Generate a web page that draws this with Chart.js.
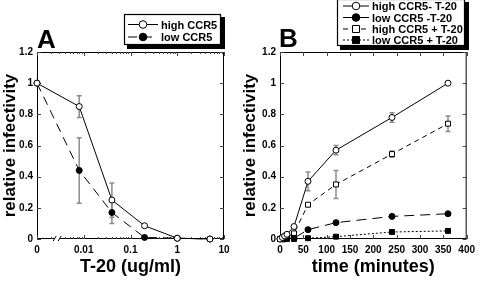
<!DOCTYPE html>
<html>
<head>
<meta charset="utf-8">
<script src="https://cdn.jsdelivr.net/npm/chart.js@4.4.0/dist/chart.umd.min.js"></script>
<style>
  html, body { margin: 0; padding: 0; background: #fff; }
  #wrap { position: relative; width: 480px; height: 281px; }
  .panel { position: absolute; top: 0; width: 240px; height: 281px; }
</style>
</head>
<body>
<div id="wrap">
  <div class="panel" style="left:0"><canvas id="chartA" width="240" height="281"></canvas></div>
  <div class="panel" style="left:240px"><canvas id="chartB" width="240" height="281"></canvas></div>
</div>
<script>
// ---- panel A: dose response (T-20 ug/ml), "0" is drawn at the 0.001 position
const DOSE = [0, 0.008, 0.04, 0.2, 1, 5];
const ZERO_AT = 0.001;
const HIGH_A = [1, 0.85, 0.25, 0.085, 0.005, 0.0];
const HIGH_A_ERR = [0, 0.07, 0.11, 0, 0, 0];
const LOW_A = [1, 0.44, 0.17, 0.01, 0.005, 0.0];
const LOW_A_ERR = [0, 0.21, 0.07, 0, 0, 0];
const X_TICKS_A = [0.001, 0.01, 0.1, 1, 10];
const X_LABELS_A = ['0', '0.01', '0.1', '1', '10'];

// ---- panel B: time course (minutes)
const TIME = [0, 5, 10, 15, 30, 60, 120, 240, 360];
const HIGH_NO = [0, 0.01, 0.02, 0.03, 0.08, 0.37, 0.57, 0.78, 1.0];
const HIGH_NO_ERR = [0, 0, 0, 0, 0, 0.06, 0.03, 0.03, 0];
const LOW_NO = [0, 0, 0, 0.005, 0.005, 0.06, 0.105, 0.145, 0.162];
const HIGH_T20 = [0, 0.005, 0.005, 0.01, 0.036, 0.22, 0.35, 0.545, 0.74];
const HIGH_T20_ERR = [0, 0, 0, 0, 0, 0, 0.09, 0.02, 0.05];
const LOW_T20 = [0, 0, 0, 0, 0.0, 0.005, 0.015, 0.045, 0.052];
const X_TICKS_B = [0, 50, 100, 150, 200, 250, 300, 350, 400];

const Y_TICKS = [0, 0.2, 0.4, 0.6, 0.8, 1, 1.2];

Chart.defaults.font.family = "'Liberation Sans', Arial, Helvetica, sans-serif";
Chart.defaults.color = '#000';

const pts = (xs, ys, zero) => xs.map((x, i) => ({ x: (zero && x === 0) ? zero : x, y: ys[i] }));

// gray vertical error bars, drawn under the markers
const errorBars = {
  id: 'errorBars',
  beforeDatasetsDraw(chart) {
    const { ctx, scales: { x, y } } = chart;
    ctx.save();
    ctx.strokeStyle = '#8c8c8c';
    ctx.lineWidth = 1.5;
    chart.data.datasets.forEach((ds) => {
      if (!ds.errors) return;
      ds.data.forEach((p, i) => {
        const e = ds.errors[i];
        if (!e) return;
        const px = x.getPixelForValue(p.x);
        const top = y.getPixelForValue(p.y + e);
        const bot = y.getPixelForValue(p.y - e);
        ctx.beginPath();
        ctx.moveTo(px, top); ctx.lineTo(px, bot);
        ctx.moveTo(px - 2.5, top); ctx.lineTo(px + 2.5, top);
        ctx.moveTo(px - 2.5, bot); ctx.lineTo(px + 2.5, bot);
        ctx.stroke();
      });
    });
    ctx.restore();
  }
};

// box round the plot with inward ticks on every side
const frame = {
  id: 'frame',
  beforeDatasetsDraw(chart, args, opts) {
    const { ctx, chartArea: a, scales: { x, y } } = chart;
    ctx.save();
    ctx.strokeStyle = '#000';
    ctx.lineWidth = 1;
    ctx.strokeRect(a.left + 0.5, a.top + 0.5, a.right - a.left - 1, a.bottom - a.top - 1);
    ctx.strokeStyle = '#444';
    ctx.beginPath();
    const xt = (v, len) => {
      const px = Math.round(x.getPixelForValue(v)) + 0.5;
      ctx.moveTo(px, a.bottom); ctx.lineTo(px, a.bottom - len);
      ctx.moveTo(px, a.top); ctx.lineTo(px, a.top + len);
    };
    x.ticks.forEach((t) => xt(t.value, 4));
    if (opts.logMinor) {
      x.ticks.slice(0, -1).forEach((t) => {
        for (let k = 2; k <= 9; k++) xt(t.value * k, 2);
      });
    }
    y.ticks.forEach((t) => {
      const py = Math.round(y.getPixelForValue(t.value)) + 0.5;
      ctx.moveTo(a.left, py); ctx.lineTo(a.left + 4, py);
      ctx.moveTo(a.right, py); ctx.lineTo(a.right - 4, py);
    });
    ctx.stroke();
    if (opts.breakAt) {
      const bx = x.getPixelForValue(opts.breakAt);
      ctx.fillStyle = '#fff';
      ctx.fillRect(bx - 3, a.bottom - 2, 6, 4);
      ctx.strokeStyle = '#000';
      ctx.beginPath();
      ctx.moveTo(bx - 4, a.bottom + 2); ctx.lineTo(bx - 1, a.bottom - 3);
      ctx.moveTo(bx + 1, a.bottom + 2); ctx.lineTo(bx + 4, a.bottom - 3);
      ctx.stroke();
    }
    ctx.restore();
  }
};

function drawMarker(ctx, ds, x, y, r) {
  ctx.beginPath();
  if (ds.pointStyle === 'rect') {
    ctx.rect(x - r, y - r, 2 * r, 2 * r);
  } else {
    ctx.arc(x, y, r, 0, Math.PI * 2);
  }
  ctx.fillStyle = ds.pointBackgroundColor;
  ctx.fill();
  ctx.lineWidth = 1;
  ctx.strokeStyle = '#000';
  ctx.stroke();
}

// boxed legend with a drop shadow, plus the panel letter
const boxLegend = {
  id: 'boxLegend',
  afterDraw(chart, args, opts) {
    const { ctx } = chart;
    ctx.save();
    ctx.fillStyle = '#000';
    ctx.font = "bold 26px 'Liberation Sans', Arial, sans-serif";
    ctx.textBaseline = 'alphabetic';
    ctx.fillText(opts.letter, opts.letterX, opts.letterY);

    ctx.fillRect(opts.x + 3, opts.y + 3, opts.w + 1, opts.h + 1);
    ctx.fillStyle = '#fff';
    ctx.fillRect(opts.x, opts.y, opts.w, opts.h);
    ctx.strokeStyle = '#000';
    ctx.lineWidth = 1.2;
    ctx.strokeRect(opts.x + 0.5, opts.y + 0.5, opts.w - 1, opts.h - 1);

    ctx.font = "bold 11px 'Liberation Sans', Arial, sans-serif";
    ctx.textBaseline = 'alphabetic';
    chart.data.datasets.forEach((ds, i) => {
      const ry = opts.rows[i];
      ctx.strokeStyle = '#000';
      ctx.lineWidth = 1;
      ctx.setLineDash(ds.borderDash || []);
      ctx.beginPath();
      ctx.moveTo(opts.sx0, ry); ctx.lineTo(opts.sx1, ry);
      ctx.stroke();
      ctx.setLineDash([]);
      drawMarker(ctx, ds, (opts.sx0 + opts.sx1) / 2, ry, ds.pointStyle === 'rect' ? 3.5 : 3.8);
      ctx.fillStyle = '#000';
      ctx.fillText(ds.label, opts.textX, ry + 4);
    });
    ctx.restore();
  }
};

const tickFont = { size: 10, weight: 'bold' };
const titleFont = { size: 18, weight: 'bold' };

function yAxis(width) {
  return {
    min: 0, max: 1.2,
    afterBuildTicks: (s) => { s.ticks = Y_TICKS.map((v) => ({ value: v })); },
    afterFit: (s) => { s.width = width; },
    grid: { display: false, drawTicks: false },
    border: { display: false },
    ticks: { padding: 4, font: tickFont, callback: (v) => String(Math.round(v * 10) / 10) },
    title: { display: true, text: 'relative infectivity', font: { size: 17, weight: 'bold' }, padding: 0 }
  };
}

function series(label, data, errors, style, filled, dash) {
  return {
    label, data, errors,
    showLine: true, tension: 0, fill: false, clip: false,
    borderColor: '#000', borderWidth: 1, borderDash: dash,
    pointStyle: style, pointRadius: style === 'rect' ? 3.5 : 3,
    pointBorderColor: '#000', pointBorderWidth: 1,
    pointBackgroundColor: filled ? '#000' : '#fff'
  };
}

new Chart(document.getElementById('chartA'), {
  type: 'line',
  data: {
    datasets: [
      series('high CCR5', pts(DOSE, HIGH_A, ZERO_AT), HIGH_A_ERR, 'circle', false, []),
      series('low CCR5', pts(DOSE, LOW_A, ZERO_AT), LOW_A_ERR, 'circle', true, [9, 6])
    ]
  },
  options: {
    responsive: false, animation: false, events: [],
    layout: { padding: { left: 0, right: 16, top: 52, bottom: 0 } },
    scales: {
      x: {
        type: 'logarithmic', min: 0.001, max: 10,
        afterBuildTicks: (s) => { s.ticks = X_TICKS_A.map((v) => ({ value: v })); },
        afterFit: (s) => { s.height = 42; },
        grid: { display: false, drawTicks: false },
        border: { display: false },
        ticks: { padding: 5, font: tickFont, autoSkip: false, maxRotation: 0,
          callback: (v, i) => X_LABELS_A[i] },
        title: { display: true, text: 'T-20 (ug/ml)', font: titleFont, padding: { top: 0, bottom: 3 } }
      },
      y: yAxis(37)
    },
    plugins: {
      legend: { display: false }, tooltip: { enabled: false },
      frame: { logMinor: true, breakAt: 0.0027 },
      boxLegend: { letter: 'A', letterX: 37, letterY: 48,
        x: 124, y: 14, w: 97, h: 31, rows: [24.5, 37], sx0: 128, sx1: 158, textX: 161 }
    }
  },
  plugins: [frame, errorBars, boxLegend]
});

new Chart(document.getElementById('chartB'), {
  type: 'line',
  data: {
    datasets: [
      series('high CCR5- T-20', pts(TIME, HIGH_NO), HIGH_NO_ERR, 'circle', false, []),
      series('low CCR5 -T-20', pts(TIME, LOW_NO), null, 'circle', true, [10, 6]),
      series('high CCR5 + T-20', pts(TIME, HIGH_T20), HIGH_T20_ERR, 'rect', false, [5, 4]),
      series('low CCR5 + T-20', pts(TIME, LOW_T20), null, 'rect', true, [2, 2])
    ]
  },
  options: {
    responsive: false, animation: false, events: [],
    layout: { padding: { left: 0, right: 12, top: 52, bottom: 0 } },
    scales: {
      x: {
        type: 'linear', min: 0, max: 400,
        afterBuildTicks: (s) => { s.ticks = X_TICKS_B.map((v) => ({ value: v })); },
        afterFit: (s) => { s.height = 42; },
        grid: { display: false, drawTicks: false },
        border: { display: false },
        ticks: { padding: 5, font: tickFont, autoSkip: false, maxRotation: 0 },
        title: { display: true, text: 'time (minutes)', font: titleFont, padding: { top: 0, bottom: 3 } }
      },
      y: yAxis(40)
    },
    plugins: {
      legend: { display: false }, tooltip: { enabled: false },
      frame: { logMinor: false },
      boxLegend: { letter: 'B', letterX: 39, letterY: 47,
        x: 97, y: -1, w: 128, h: 47, rows: [6, 17.5, 29, 40], sx0: 103, sx1: 129, textX: 132 }
    }
  },
  plugins: [frame, errorBars, boxLegend]
});
</script>
</body>
</html>
